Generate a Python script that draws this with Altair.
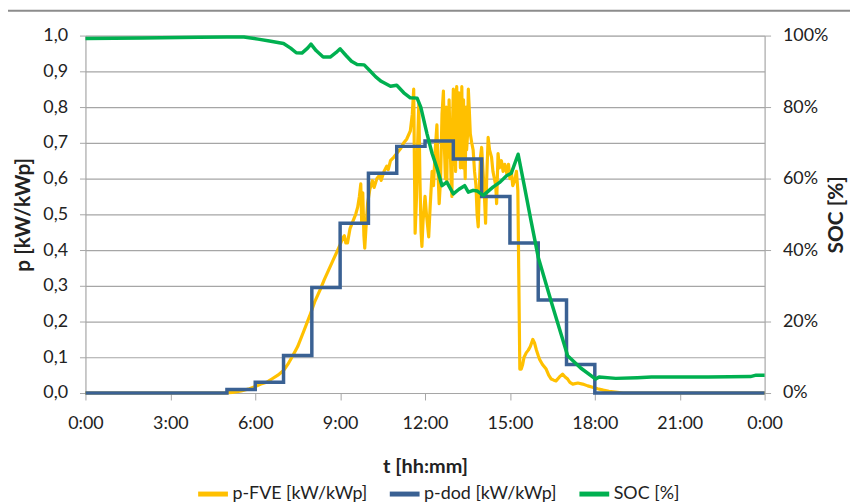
import altair as alt
import pandas as pd

# ---------------- data ----------------
series_names = ["p-FVE [kW/kWp]", "p-dod [kW/kWp]", "SOC [%]"]
series_colors = ["#FFC000", "#3A6193", "#00B050"]
x_ticks = [0, 3, 6, 9, 12, 15, 18, 21, 24]
y_ticks = [0.0, 0.1, 0.2, 0.3, 0.4, 0.5, 0.6, 0.7, 0.8, 0.9, 1.0]
soc_ticks = [0.0, 0.2, 0.4, 0.6, 0.8, 1.0]

fve_t = [0.0, 4.9, 5.2, 5.5, 5.8, 6.0, 6.2, 6.4, 6.6, 6.8, 7.0, 7.15, 7.33, 7.5, 7.7,
         7.92, 8.1, 8.3, 8.44, 8.6, 8.8, 9.0, 9.1, 9.15, 9.2, 9.26, 9.35, 9.45, 9.55,
         9.62, 9.68, 9.73, 9.76, 9.8, 9.84, 9.87, 9.92, 9.97, 10.05, 10.14, 10.2, 10.3,
         10.4, 10.45, 10.55, 10.65, 10.7, 10.78, 10.9, 11.0, 11.13, 11.25, 11.35, 11.48,
         11.55, 11.6, 11.63, 11.65, 11.7, 11.74, 11.78, 11.82, 11.86, 11.89, 11.93, 12.0,
         12.05, 12.13, 12.18, 12.25, 12.3, 12.36, 12.42, 12.46, 12.5, 12.55, 12.6, 12.65,
         12.68, 12.72, 12.75, 12.77, 12.8, 12.82, 12.85, 12.88, 12.92, 12.95, 12.98, 13.0,
         13.03, 13.05, 13.08, 13.1, 13.12, 13.15, 13.17, 13.2, 13.22, 13.25, 13.27, 13.3,
         13.32, 13.34, 13.36, 13.38, 13.42, 13.45, 13.47, 13.5, 13.53, 13.56, 13.6, 13.65,
         13.7, 13.75, 13.8, 13.84, 13.88, 13.92, 13.96, 14.0, 14.05, 14.1, 14.14, 14.18,
         14.23, 14.28, 14.35, 14.4, 14.45, 14.5, 14.53, 14.58, 14.63, 14.7, 14.76, 14.82,
         14.9, 14.95, 15.0, 15.05, 15.1, 15.17, 15.23, 15.28, 15.31, 15.35, 15.4, 15.45,
         15.5, 15.58, 15.65, 15.72, 15.81, 15.87, 15.93, 16.0, 16.05, 16.15, 16.28, 16.37,
         16.46, 16.55, 16.63, 16.75, 16.86, 16.95, 17.04, 17.12, 17.22, 17.4, 17.57, 17.75,
         17.92, 18.1, 18.3, 18.5, 18.8, 19.0, 24.0]
fve_v = [0.0, 0.0, 0.002, 0.006, 0.012, 0.018, 0.025, 0.03, 0.04, 0.05, 0.063, 0.08, 0.105, 0.13, 0.17,
         0.215, 0.255, 0.29, 0.317, 0.345, 0.38, 0.415, 0.435, 0.44, 0.42, 0.42, 0.46, 0.48, 0.50,
         0.52, 0.55, 0.585, 0.48, 0.56, 0.44, 0.405, 0.47, 0.53, 0.57, 0.594, 0.575, 0.60,
         0.61, 0.595, 0.62, 0.635, 0.625, 0.65, 0.66, 0.67, 0.683, 0.70, 0.71, 0.733,
         0.78, 0.85, 0.60, 0.447, 0.55, 0.70, 0.81, 0.60, 0.45, 0.41, 0.48, 0.55,
         0.50, 0.437, 0.52, 0.62, 0.58, 0.68, 0.75, 0.62, 0.53, 0.60, 0.78, 0.845,
         0.70, 0.60, 0.80, 0.59, 0.75, 0.66, 0.82, 0.72, 0.60, 0.55, 0.78, 0.85,
         0.64, 0.75, 0.62, 0.83, 0.857, 0.66, 0.70, 0.84, 0.78, 0.63, 0.65, 0.857,
         0.70, 0.63, 0.82, 0.70, 0.60, 0.80, 0.68, 0.72, 0.85, 0.80, 0.725, 0.70,
         0.68, 0.62, 0.58, 0.50, 0.465, 0.58, 0.66, 0.687, 0.62, 0.55, 0.475, 0.60,
         0.715, 0.68, 0.66, 0.62, 0.60, 0.58, 0.53, 0.67, 0.63, 0.65, 0.62, 0.64,
         0.61, 0.64, 0.60, 0.62, 0.58, 0.595, 0.62, 0.567, 0.35, 0.067, 0.067, 0.08,
         0.10, 0.113, 0.12, 0.13, 0.15, 0.14, 0.122, 0.105, 0.094, 0.08, 0.067, 0.05,
         0.039, 0.036, 0.034, 0.045, 0.053, 0.045, 0.039, 0.03, 0.025, 0.028, 0.025, 0.02,
         0.016, 0.012, 0.008, 0.005, 0.002, 0.0, 0.0]

dod_t = [0, 5, 6, 7, 8, 9, 10, 11, 12, 13, 14, 15, 16, 17, 18, 24]
dod_v = [0.0, 0.01, 0.03, 0.105, 0.295, 0.475, 0.615, 0.69, 0.705, 0.655, 0.55, 0.42,
         0.26, 0.08, 0.0, 0.0]

soc_t = [0.0, 2.0, 4.0, 5.0, 5.6, 6.1, 6.5, 7.0, 7.25, 7.45, 7.65, 7.85, 7.97, 8.15, 8.4,
         8.65, 8.85, 9.0, 9.2, 9.4, 9.6, 9.85, 10.07, 10.25, 10.45, 10.78, 11.0, 11.25,
         11.48, 11.72, 11.85, 12.07, 12.25, 12.42, 12.6, 12.77, 13.0, 13.2, 13.4, 13.53,
         13.7, 13.85, 14.06, 14.4, 14.65, 14.88, 15.05, 15.29, 15.5, 15.75, 16.0, 16.5,
         17.04, 17.5, 18.03, 18.15, 18.74, 19.5, 20.0, 22.0, 23.5, 23.7, 24.0]
soc_v = [0.992, 0.993, 0.995, 0.996, 0.996, 0.99, 0.985, 0.978, 0.965, 0.952, 0.951, 0.965,
         0.976, 0.958, 0.94, 0.94, 0.952, 0.963, 0.945, 0.928, 0.919, 0.918, 0.90, 0.885,
         0.872, 0.858, 0.861, 0.84, 0.826, 0.825, 0.80, 0.725, 0.67, 0.63, 0.58, 0.59,
         0.557, 0.57, 0.58, 0.562, 0.567, 0.565, 0.553, 0.576, 0.59, 0.608, 0.615, 0.668,
         0.583, 0.48, 0.38, 0.245, 0.104, 0.07, 0.039, 0.045, 0.041, 0.043, 0.045, 0.045,
         0.046, 0.05, 0.05]

df_fve = pd.DataFrame({"t": fve_t, "v": fve_v, "s": series_names[0]})
df_dod = pd.DataFrame({"t": dod_t, "v": dod_v, "s": series_names[1]})
df_soc = pd.DataFrame({"t": soc_t, "v": soc_v, "s": series_names[2]})

# ---------------- styling ----------------
FONT = "Lato"
TXT = "#222222"
GRID = "#A6A6A6"

color = alt.Color(
    "s:N",
    scale=alt.Scale(domain=series_names, range=series_colors),
    legend=alt.Legend(
        orient="none", legendX=111, legendY=444, direction="horizontal",
        title=None, symbolType="stroke", symbolSize=900, symbolStrokeWidth=5,
        labelFont=FONT, labelFontSize=18, labelColor=TXT, labelOffset=2,
        columnPadding=12, padding=0,
    ),
)

x_enc = alt.X(
    "t:Q",
    scale=alt.Scale(domain=[0, 24], nice=False, zero=False),
    axis=alt.Axis(
        values=x_ticks, labelExpr="(datum.value % 24) + ':00'",
        title="t [hh:mm]", grid=False, domainColor=GRID, tickColor=GRID,
        tickSize=7, labelPadding=15, labelFont=FONT, labelFontSize=18,
        labelColor=TXT, titleFont=FONT, titleFontSize=20, titleFontWeight="bold",
        titleColor=TXT, titleX=342, titleY=74, titleBaseline="middle",
        labelFlush=False,
    ),
)

y_left = alt.Y(
    "v:Q",
    scale=alt.Scale(domain=[0, 1], nice=False),
    axis=alt.Axis(
        values=y_ticks, labelExpr="replace(format(datum.value, '.1f'), '.', ',')",
        title="p [kW/kWp]", grid=True, gridColor=GRID, gridWidth=1.2,
        domainColor=GRID, tickColor=GRID, tickSize=6, labelPadding=12,
        labelFont=FONT, labelFontSize=18, labelColor=TXT,
        titleFont=FONT, titleFontSize=21, titleFontWeight="bold", titleColor=TXT,
        titleAngle=270, titleX=-62, titleY=180, titleBaseline="middle",
        titleAlign="center",
    ),
)

y_right = alt.Y(
    "v:Q",
    scale=alt.Scale(domain=[0, 1], nice=False),
    axis=alt.Axis(
        orient="right", values=soc_ticks, format=".0%",
        title="SOC [%]", grid=False, domainColor=GRID, tickColor=GRID,
        tickSize=6, labelPadding=12, labelFont=FONT, labelFontSize=18,
        labelColor=TXT, titleFont=FONT, titleFontSize=21, titleFontWeight="bold",
        titleColor=TXT, titleAngle=270, titleX=72, titleY=180,
        titleBaseline="middle", titleAlign="center",
    ),
)

fve = alt.Chart(df_fve).mark_line(strokeWidth=3.2, strokeJoin="round").encode(
    x=x_enc, y=y_left, color=color, order="t:Q")
dod = alt.Chart(df_dod).mark_line(strokeWidth=3.5, interpolate="step-after").encode(
    x=x_enc, y=y_left, color=color)
frame = alt.Chart(pd.DataFrame({"a": [0]})).mark_rule(color="#8C8C8C", strokeWidth=2).encode(
    x=alt.value(-78), x2=alt.value(770), y=alt.value(-25))

left = alt.layer(frame, fve, dod)

soc = alt.Chart(df_soc).mark_line(strokeWidth=3.5, strokeJoin="round").encode(
    x=x_enc, y=y_right, color=color)

chart = alt.layer(left, soc).resolve_scale(y="independent").properties(
    width=684, height=360,
    padding={"left": 78, "top": 26, "right": 86, "bottom": 110},
    autosize=alt.AutoSizeParams(type="none"),
).configure_view(stroke=None).configure(background="white")

chart.save("out.html", embed_options={"renderer": "svg", "actions": False})
